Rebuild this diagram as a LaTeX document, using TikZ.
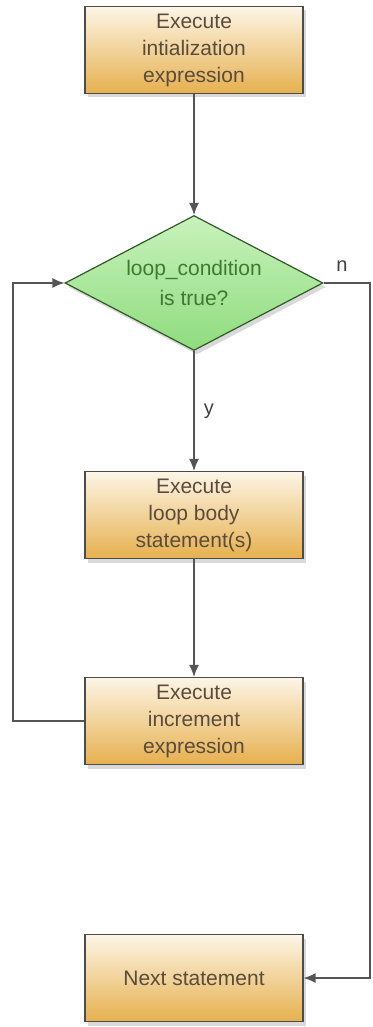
\documentclass[tikz,border=0pt]{standalone}
\usepackage{fontspec}
\setmainfont{Liberation Sans}
\usepackage{tikz}
\usetikzlibrary{arrows.meta, shapes.geometric, shadows}

\definecolor{boxtop}{HTML}{FDF5E6}
\definecolor{boxbot}{HTML}{E6B04E}
\definecolor{boxtext}{HTML}{5A4C3C}
\definecolor{dectop}{HTML}{C8F2BC}
\definecolor{decbot}{HTML}{8FDC7E}
\definecolor{dectext}{HTML}{3E7A30}
\definecolor{decline}{HTML}{2F5A26}
\definecolor{wire}{HTML}{555555}

\begin{document}
\begin{tikzpicture}[x=1pt, y=-1pt, >={Latex[length=12pt,width=10pt]},
  stepbox/.style={draw=black!70, line width=1.2pt, rectangle,
    top color=boxtop, bottom color=boxbot,
    minimum width=218pt, minimum height=87pt, inner sep=2pt,
    align=center, text=boxtext, font=\fontsize{21}{27}\selectfont,
    drop shadow={shadow xshift=3pt, shadow yshift=-4pt, opacity=0.3}},
  testbox/.style={draw=decline, line width=1.2pt, diamond, aspect=1.91,
    top color=dectop, bottom color=decbot,
    minimum width=258pt, minimum height=135pt, inner sep=0pt,
    align=center, text=dectext, font=\fontsize{21}{30}\selectfont,
    drop shadow={shadow xshift=3pt, shadow yshift=-4pt, opacity=0.3}},
  flow/.style={->, draw=wire, line width=1.3pt},
  lbl/.style={text=black!75, font=\fontsize{20}{22}\selectfont}]
  \useasboundingbox (0,0) rectangle (372,1027);
  % Initialisation
  \node[stepbox] (init) at (194,50) {Execute\\intialization\\expression};
  % Condition
  \node[testbox] (cond) at (194,283) {loop\_condition\\is true?};
  % Corps de boucle
  \node[stepbox] (body) at (194,515) {Execute\\loop body\\statement(s)};
  % Incrément
  \node[stepbox] (incr) at (194,721) {Execute\\increment\\expression};
  % Instruction suivante
  \node[stepbox] (next) at (194,978) {Next statement};
  % Coins des retours
  \coordinate (backdown) at (13,721);
  \coordinate (backup) at (13,283);
  \coordinate (exittop) at (370,283);
  \coordinate (exitbot) at (370,978);
  % Liaisons
  \draw[flow] (init) -- (cond);
  \draw[flow] (cond) -- node[lbl, right=6pt, pos=0.5] (yes) {y} (body);
  \draw[flow] (body) -- (incr);
  \draw[flow] (incr.west) -- (backdown) -- (backup) -- (cond.west);
  \draw[flow] (cond.east) -- (exittop) -- (exitbot) -- (next.east);
  \node[lbl] (no) at (342,266) {n};
\end{tikzpicture}
\end{document}
